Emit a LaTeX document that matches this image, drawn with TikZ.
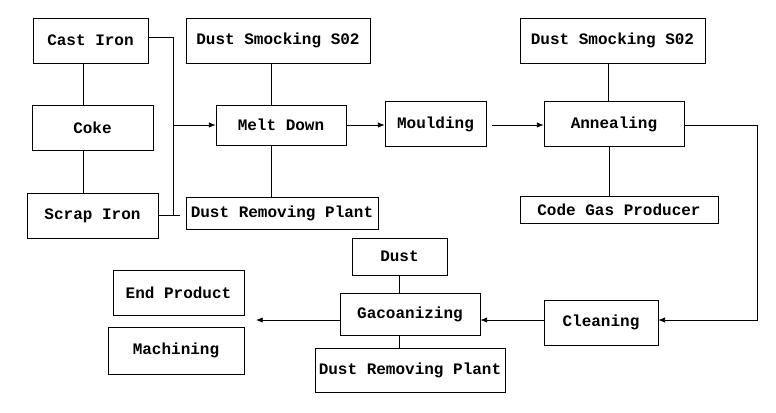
\documentclass[tikz,border=0pt]{standalone}
\usepackage{fontspec}
\setmonofont{Liberation Mono}
\usetikzlibrary{arrows.meta}
\tikzset{
  stage/.style 2 args={draw, line width=0.6pt, inner sep=0pt,
    minimum width=#1*0.75pt, minimum height=#2*0.75pt,
    font=\ttfamily\bfseries\fontsize{12}{14}\selectfont},
  flow/.style={-{Latex[length=5pt,width=4pt]}, line width=0.6pt},
  link/.style={line width=0.6pt}
}
\begin{document}
\begin{tikzpicture}[x=0.75pt,y=-0.75pt]
      \useasboundingbox (0,0) rectangle (776,412);
      \draw
        (90.5,40.5) node[stage={115}{45}] (cast){Cast Iron}
        (92.5,127.5) node[stage={121}{45}] (coke){Coke}
        (92.5,215.5) node[stage={131}{45}] (scrap){Scrap Iron}
        (278,40.5) node[stage={184}{45}] (dust1){Dust Smocking S02}
        (281,125) node[stage={130}{40}] (melt){Melt Down}
        (282,213) node[stage={192}{32}] (plant1){Dust Removing Plant}
        (435.5,124) node[stage={101}{45}] (mould){Moulding}
        (614,124) node[stage={140}{45}] (anneal){Annealing}
        (612.5,40.5) node[stage={185}{45}] (dust2){Dust Smocking S02}
        (619,210) node[stage={198}{27}] (gas){Code Gas Producer}
        (601,322.5) node[stage={114}{45}] (clean){Cleaning}
        (410,314) node[stage={140}{42}] (galv){Gacoanizing}
        (399.5,256.5) node[stage={95}{37}] (dust3){Dust}
        (410,370) node[stage={190}{44}] (plant2){Dust Removing Plant}
        (178.5,292.5) node[stage={131}{45}] (endp){End Product}
        (176,350.5) node[stage={136}{47}] (mach){Machining};
      \coordinate (j1) at (173,37);
      \coordinate (j2) at (173,125);
      \coordinate (j3) at (173,215);
      \coordinate (j4) at (180,215);
      \coordinate (j5) at (757,125);
      \coordinate (j6) at (757,320);
      \coordinate (out) at (256,320);
      \begin{scope}[link]
        \draw (cast.south -| 83,0) to (coke.north -| 83,0);
        \draw (coke.south -| 83,0) to (scrap.north -| 83,0);
        \draw (cast.east |- j1) -- (j1) -- (j3);
        \draw (scrap.east |- j3) -- (j4);
        \draw (dust1.south -| 271,0) to (melt.north -| 271,0);
        \draw (melt.south -| 271,0) to (plant1.north -| 271,0);
        \draw (dust2.south -| 608,0) to (anneal.north -| 608,0);
        \draw (anneal.south -| 609,0) to (gas.north -| 609,0);
        \draw (dust3) to (dust3 |- galv.north);
        \draw (galv.south -| dust3) to (plant2.north -| dust3);
      \end{scope}
      \begin{scope}[flow]
        \draw (j2) to (melt.west |- j2);
        \draw (melt.east |- j2) to (mould.west |- j2);
        \draw ([xshift=4.5pt]mould.east |- j2) to (anneal.west |- j2);
        \draw (anneal.east |- j5) -- (j5) -- (j6) -- (clean.east |- j6);
        \draw (clean.west |- j6) to (galv.east |- j6);
        \draw (galv.west |- j6) to (out);
      \end{scope}
    \end{tikzpicture}
\end{document}
